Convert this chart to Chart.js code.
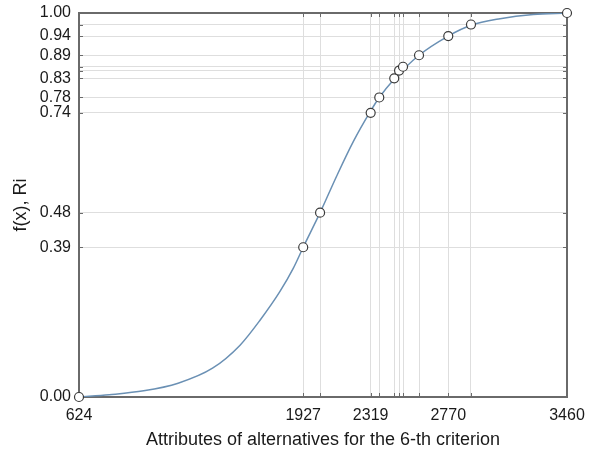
<!DOCTYPE html>
<html>
<head>
<meta charset="utf-8">
<script src="https://cdn.jsdelivr.net/npm/chart.js@4"></script>
<style>
  html, body { margin: 0; padding: 0; background: #ffffff; }
  #wrap { width: 592px; height: 452px; }
</style>
</head>
<body>
<div id="wrap"><canvas id="c" width="592" height="452"></canvas></div>
<script>
// Observed alternatives: attribute value and membership value
const pointX = [624, 1927, 2025, 2319, 2369, 2456, 2484, 2507, 2600, 2770, 2902, 3460];
const pointY = [0.00, 0.39, 0.48, 0.74, 0.78, 0.83, 0.85, 0.86, 0.89, 0.94, 0.97, 1.00];

// Fitted membership curve f(x), sampled along the attribute range
const curveX = [624, 800, 1000, 1200, 1400, 1560, 1676, 1792, 1869, 1927, 2025, 2121, 2218, 2319, 2369, 2450, 2600, 2770, 2902, 3071, 3264, 3460];
const curveY = [0.000, 0.006, 0.016, 0.036, 0.075, 0.135, 0.200, 0.275, 0.335, 0.390, 0.480, 0.575, 0.665, 0.745, 0.780, 0.825, 0.890, 0.940, 0.968, 0.985, 0.996, 1.000];

// Tick values that carry a printed label
const xTickLabels = [624, 1927, 2319, 2770, 3460];
const yTickLabels = [0.00, 0.39, 0.48, 0.74, 0.78, 0.83, 0.89, 0.94, 1.00];

const xTitle = 'Attributes of alternatives for the 6-th criterion';
const yTitle = 'f(x), Ri';

const FONT = '"Liberation Sans", Arial, sans-serif';
const FRAME = '#6a6a6a';
const GRID = '#dedede';
const TEXT = '#1a1a1a';

const curveData = curveX.map((x, i) => ({ x: x, y: curveY[i] }));
const pointData = pointX.map((x, i) => ({ x: x, y: pointY[i] }));

// Frame around the plot area with short inward tick marks on all four sides
const framePlugin = {
  id: 'frame',
  beforeDatasetsDraw(chart) {
    const { ctx, chartArea: a, scales } = chart;
    ctx.save();
    ctx.strokeStyle = FRAME;
    ctx.lineWidth = 1;
    const L = 4;
    ctx.beginPath();
    pointX.forEach(v => {
      const px = Math.round(scales.x.getPixelForValue(v)) + 0.5;
      ctx.moveTo(px, a.bottom); ctx.lineTo(px, a.bottom - L);
      ctx.moveTo(px, a.top); ctx.lineTo(px, a.top + L);
    });
    pointY.forEach(v => {
      const py = Math.round(scales.y.getPixelForValue(v)) + 0.5;
      ctx.moveTo(a.left, py); ctx.lineTo(a.left + L, py);
      ctx.moveTo(a.right, py); ctx.lineTo(a.right - L, py);
    });
    ctx.stroke();
    ctx.lineWidth = 2;
    ctx.strokeRect(a.left, a.top, a.right - a.left, a.bottom - a.top);
    ctx.restore();
  }
};

new Chart(document.getElementById('c'), {
  type: 'scatter',
  data: {
    datasets: [
      {
        type: 'line',
        data: curveData,
        borderColor: '#6a90b4',
        borderWidth: 1.5,
        pointRadius: 0,
        fill: false,
        cubicInterpolationMode: 'monotone',
        order: 2
      },
      {
        data: pointData,
        backgroundColor: '#ffffff',
        borderColor: '#3a3a3a',
        borderWidth: 1.2,
        pointRadius: 4.5,
        clip: false,
        order: 1
      }
    ]
  },
  options: {
    responsive: false,
    animation: false,
    events: [],
    layout: { padding: { left: 10, right: 25, top: 13, bottom: 1 } },
    plugins: { legend: { display: false }, tooltip: { enabled: false } },
    scales: {
      x: {
        type: 'linear',
        min: 624,
        max: 3460,
        afterBuildTicks: s => { s.ticks = pointX.map(v => ({ value: v })); },
        afterFit: s => { s.height = 452 - 397 - 1; s.paddingLeft = 0; s.paddingRight = 0; },
        grid: { color: GRID, lineWidth: 1, drawTicks: false },
        border: { display: false },
        ticks: {
          autoSkip: false,
          maxRotation: 0,
          padding: 9,
          color: TEXT,
          font: { family: FONT, size: 16 },
          callback: v => xTickLabels.includes(v) ? String(v) : ''
        },
        title: {
          display: true,
          text: xTitle,
          color: TEXT,
          padding: { top: 0, bottom: 0 },
          font: { family: FONT, size: 18 }
        }
      },
      y: {
        type: 'linear',
        min: 0,
        max: 1,
        afterBuildTicks: s => { s.ticks = pointY.map(v => ({ value: v })); },
        afterFit: s => { s.width = 79 - 10; s.paddingTop = 0; s.paddingBottom = 0; },
        grid: { color: GRID, lineWidth: 1, drawTicks: false },
        border: { display: false },
        ticks: {
          autoSkip: false,
          padding: 8,
          color: TEXT,
          font: { family: FONT, size: 16 },
          callback: v => yTickLabels.some(t => Math.abs(t - v) < 1e-9) ? v.toFixed(2) : ''
        },
        title: {
          display: true,
          text: yTitle,
          color: TEXT,
          padding: { top: 0, bottom: 0 },
          font: { family: FONT, size: 18 }
        }
      }
    }
  },
  plugins: [framePlugin]
});
</script>
</body>
</html>
